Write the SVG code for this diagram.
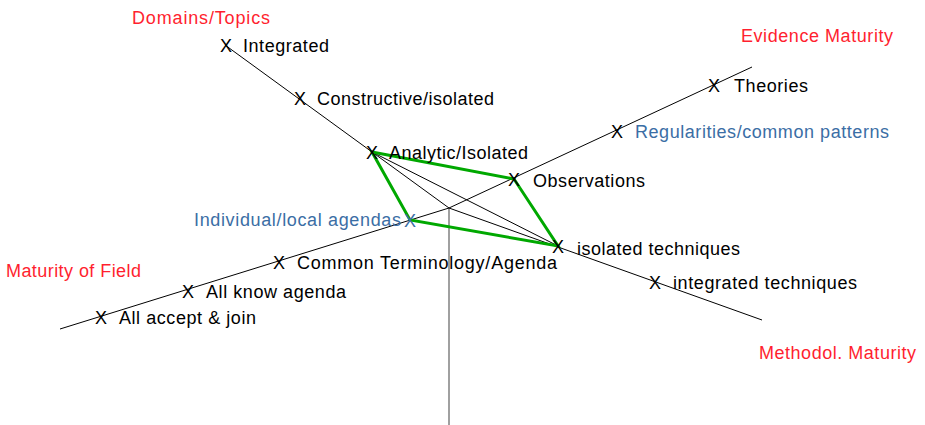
<svg xmlns="http://www.w3.org/2000/svg" width="925" height="425" viewBox="0 0 925 425">
<style>
text{font-family:"Liberation Sans",Arial,sans-serif;font-size:18px;}
.lbl{fill:#000;}
.x{fill:#000;text-anchor:middle;}
.xb{fill:#3b6ea5;text-anchor:middle;}
.blue{fill:#3b6ea5;}
.red{fill:#ff1f2f;}
.axis{stroke:#000;stroke-width:1;fill:none;}
.vert{stroke:#808080;stroke-width:1.5;fill:none;}
.poly{stroke:#00a800;stroke-width:3;fill:none;stroke-linejoin:miter;}
</style>
<rect width="925" height="425" fill="#fff"/>
<g id="connectors">
<line class="vert" x1="449" y1="208" x2="449" y2="425"/>
<line class="axis" x1="225" y1="45" x2="449" y2="208"/>
<line class="axis" x1="449" y1="208" x2="752" y2="67"/>
<line class="axis" x1="60" y1="329" x2="449" y2="208"/>
<line class="axis" x1="449" y1="208" x2="762" y2="320"/>
<line class="axis" x1="372" y1="152" x2="558" y2="246"/>
<polygon class="poly" points="372,152 514,179 558,246 410,220"/>
</g>
<g id="axis-labels">
<text id="t-domains" class="red" x="132" y="24" textLength="138" lengthAdjust="spacing">Domains/Topics</text>
<text id="t-evidence" class="red" x="741" y="42" textLength="152" lengthAdjust="spacing">Evidence Maturity</text>
<text id="t-field" class="red" x="6" y="277" textLength="135" lengthAdjust="spacing">Maturity of Field</text>
<text id="t-method" class="red" x="759" y="359" textLength="157" lengthAdjust="spacing">Methodol. Maturity</text>
</g>
<g id="n-integrated"><text class="x" x="226" y="52">X</text><text class="lbl" x="243" y="52" textLength="86" lengthAdjust="spacing">Integrated</text></g>
<g id="n-constructive"><text class="x" x="300" y="105">X</text><text class="lbl" x="317" y="105" textLength="177" lengthAdjust="spacing">Constructive/isolated</text></g>
<g id="n-analytic"><text class="x" x="372" y="159">X</text><text class="lbl" x="389" y="159" textLength="139" lengthAdjust="spacing">Analytic/Isolated</text></g>
<g id="n-observations"><text class="x" x="514" y="186">X</text><text class="lbl" x="533" y="187" textLength="112" lengthAdjust="spacing">Observations</text></g>
<g id="n-regularities"><text class="x" x="617" y="138">X</text><text class="blue" x="635" y="138" textLength="254" lengthAdjust="spacing">Regularities/common patterns</text></g>
<g id="n-theories"><text class="x" x="714" y="92">X</text><text class="lbl" x="734" y="92" textLength="74" lengthAdjust="spacing">Theories</text></g>
<g id="n-individual"><text class="xb" x="410" y="227">X</text><text class="blue" x="194" y="226" textLength="207" lengthAdjust="spacing">Individual/local agendas</text></g>
<g id="n-common"><text class="x" x="279" y="269">X</text><text class="lbl" x="297" y="269" textLength="260" lengthAdjust="spacing">Common Terminology/Agenda</text></g>
<g id="n-allknow"><text class="x" x="188" y="298">X</text><text class="lbl" x="206" y="298" textLength="140" lengthAdjust="spacing">All know agenda</text></g>
<g id="n-allaccept"><text class="x" x="101" y="324">X</text><text class="lbl" x="119" y="324" textLength="137" lengthAdjust="spacing">All accept &amp; join</text></g>
<g id="n-isolatedtech"><text class="x" x="558" y="253">X</text><text class="lbl" x="577" y="255" textLength="163" lengthAdjust="spacing">isolated techniques</text></g>
<g id="n-integratedtech"><text class="x" x="655" y="289">X</text><text class="lbl" x="673" y="289" textLength="184" lengthAdjust="spacing">integrated techniques</text></g>
</svg>
